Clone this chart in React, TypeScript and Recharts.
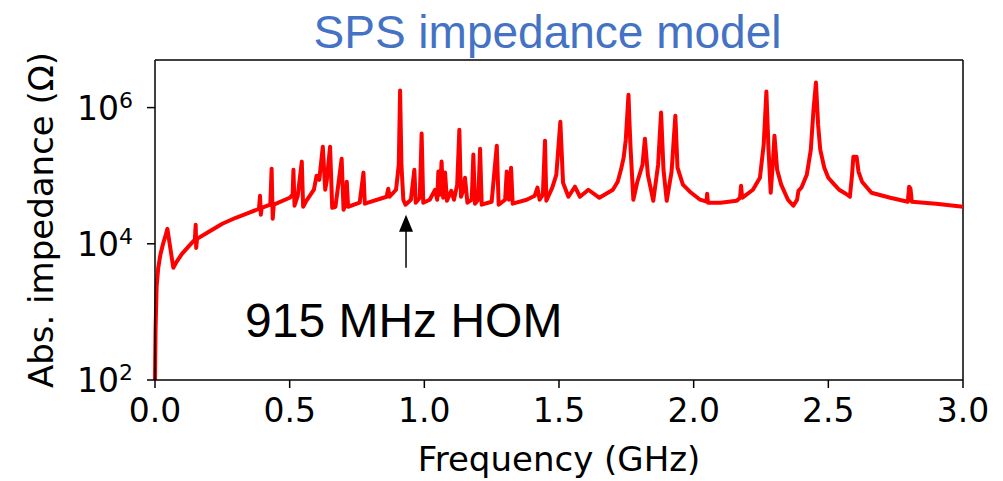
import React from "react";
import {
  LineChart,
  Line,
  XAxis,
  YAxis,
  ReferenceLine,
} from "recharts";

// frequency in GHz
const freq = [
  0, 0.002, 0.006, 0.012, 0.02, 0.03, 0.04, 0.046, 0.055, 0.068,
  0.08, 0.1, 0.13, 0.148, 0.151, 0.153, 0.156, 0.2, 0.25, 0.3,
  0.35, 0.386, 0.39, 0.393, 0.396, 0.428, 0.433, 0.437, 0.441, 0.5,
  0.511, 0.514, 0.518, 0.53, 0.545, 0.55, 0.56, 0.59, 0.6, 0.61,
  0.623, 0.632, 0.638, 0.65, 0.658, 0.67, 0.693, 0.7, 0.708, 0.712,
  0.717, 0.76, 0.774, 0.779, 0.86, 0.866, 0.871, 0.895, 0.905, 0.91,
  0.915, 0.922, 0.93, 0.95, 0.963, 0.968, 0.983, 0.99, 0.996, 1.02,
  1.04, 1.048, 1.052, 1.058, 1.064, 1.07, 1.077, 1.084, 1.1, 1.11,
  1.122, 1.13, 1.136, 1.145, 1.151, 1.16, 1.176, 1.182, 1.188, 1.2,
  1.207, 1.213, 1.25, 1.269, 1.276, 1.3, 1.306, 1.314, 1.322, 1.328,
  1.38, 1.41, 1.42, 1.428, 1.44, 1.448, 1.453, 1.475, 1.49, 1.505,
  1.515, 1.535, 1.559, 1.578, 1.609, 1.65, 1.7, 1.718, 1.73, 1.74,
  1.748, 1.758, 1.762, 1.766, 1.776, 1.79, 1.81, 1.819, 1.83, 1.85,
  1.868, 1.879, 1.888, 1.9, 1.918, 1.932, 1.94, 1.96, 1.986, 2.024,
  2.048, 2.05, 2.053, 2.1, 2.16, 2.172, 2.176, 2.18, 2.22, 2.246,
  2.26, 2.27, 2.278, 2.286, 2.295, 2.3, 2.31, 2.325, 2.35, 2.37,
  2.384, 2.389, 2.4, 2.42, 2.435, 2.445, 2.454, 2.462, 2.47, 2.485,
  2.5, 2.52, 2.54, 2.565, 2.58, 2.588, 2.593, 2.605, 2.612, 2.625,
  2.66, 2.73, 2.795, 2.8, 2.805, 2.81, 2.9, 3.0,
];

// |Z| in ohm
const impedance = [
  100, 543, 2330, 4440, 6900, 1.0e4, 1.36e4, 1.66e4, 9660, 4440,
  5430, 7130, 9660, 1.15e4, 1.9e4, 8710, 1.18e4, 1.5e4, 1.97e4, 2.41e4,
  2.86e4, 3.27e4, 5.08e4, 2.67e4, 3.37e4, 3.75e4, 1.27e5, 2.33e4, 3.75e4, 4.74e4,
  5.25e4, 1.22e5, 3.62e4, 5.08e4, 1.61e5, 3.5e4, 4.15e4, 6.22e4, 1.0e5, 8.7e4,
  2.67e5, 6.22e4, 8.7e4, 2.67e5, 3.37e4, 3.5e4, 1.78e5, 3.16e4, 3.75e4, 8.17e4,
  3.5e4, 4.01e4, 1.11e5, 3.88e4, 4.91e4, 6.44e4, 4.91e4, 6.22e4, 1.45e5, 1.78e6,
  1.45e5, 4.44e4, 3.75e4, 4.44e4, 1.22e5, 4.01e4, 4.74e4, 4.15e5, 4.01e4, 4.44e4,
  6.22e4, 4.44e4, 1.15e5, 5.25e4, 1.61e5, 4.74e4, 1.11e5, 4.28e4, 6.0e4, 4.44e4,
  7.38e4, 4.74e5, 4.91e4, 6.22e4, 9.33e4, 4.01e4, 4.44e4, 2.04e5, 3.88e4, 4.44e4,
  2.49e5, 3.75e4, 4.15e4, 2.76e5, 3.75e4, 4.44e4, 1.15e5, 4.44e4, 1.31e5, 3.88e4,
  4.44e4, 5.08e4, 6.67e4, 4.44e4, 5.25e4, 3.27e5, 4.28e4, 6.67e4, 1.03e5, 6.22e5,
  7.89e4, 4.91e4, 6.89e4, 4.91e4, 6.22e4, 4.74e4, 6.22e4, 8.17e4, 1.22e5, 1.84e5,
  3.38e5, 1.55e6, 5.62e5, 2.41e5, 4.44e4, 7.89e4, 1.45e5, 3.5e5, 1.03e5, 4.28e4,
  1.45e5, 8.44e5, 1.22e5, 4.28e4, 1.15e5, 7.62e5, 1.31e5, 7.38e4, 5.82e4, 4.44e4,
  4.15e4, 5.43e4, 4.01e4, 4.01e4, 4.28e4, 4.74e4, 7.13e4, 4.74e4, 6.22e4, 9.33e4,
  2.86e5, 1.72e6, 2.41e5, 5.62e4, 1.72e5, 3.87e5, 1.22e5, 7.38e4, 4.44e4, 3.62e4,
  4.44e4, 6.0e4, 6.67e4, 1.03e5, 2.41e5, 9.36e5, 2.33e6, 5.62e5, 2.41e5, 1.31e5,
  9.33e4, 7.6e4, 6.22e4, 5.43e4, 4.91e4, 1.03e5, 1.9e5, 1.9e5, 1.15e5, 8.17e4,
  5.62e4, 4.74e4, 4.15e4, 6.89e4, 6.44e4, 4.15e4, 3.88e4, 3.5e4,
];

const xTicks = [0, 0.5, 1.0, 1.5, 2.0, 2.5, 3.0];
const yTicks = [1e2, 1e4, 1e6];
const xMax = 3;
const yMin = 100;
const yMax = 5e6;

// arrow pointing at the 915 MHz HOM dip
const homFreq = 0.932;
const arrowFrom = 4440;
const arrowTo = 26700;

const data = freq.map((f, i) => ({ f, z: impedance[i] }));

const sans = "'DejaVu Sans', sans-serif";
const arial = "'Liberation Sans', Arial, sans-serif";

const XTick = ({ x, y, payload }: any) => (
  <text x={x} y={y + 32} textAnchor="middle" fontFamily={sans} fontSize={33} fill="#000">
    {Number(payload.value).toFixed(1)}
  </text>
);

const YTick = ({ x, y, payload }: any) => {
  const exp = Math.round(Math.log10(payload.value));
  return (
    <text x={x - 12} y={y + 12} textAnchor="end" fontFamily={sans} fontSize={33} fill="#000">
      10
      <tspan fontSize={22} dy={-12}>
        {exp}
      </tspan>
    </text>
  );
};

const Arrow = (p: any) => {
  const { x1, y1, x2, y2 } = p;
  return (
    <g>
      <line x1={x1} y1={y1} x2={x2} y2={y2 + 16} stroke="#000" strokeWidth={1.5} />
      <polygon points={`${x2},${y2} ${x2 - 7},${y2 + 17} ${x2 + 7},${y2 + 17}`} fill="#000" />
      <text x={x1 - 161} y={y1 + 69} fontFamily={arial} fontSize={48} fill="#000">
        915 MHz HOM
      </text>
    </g>
  );
};

export default function App() {
  return (
    <div style={{ position: "absolute", left: 0, top: 0, width: 1003, height: 481, background: "#fff" }}>
      <div
        style={{
          position: "absolute",
          left: 0,
          width: 1003,
          top: 6,
          textAlign: "center",
          paddingLeft: 92,
          boxSizing: "border-box",
          fontFamily: arial,
          fontSize: 46,
          lineHeight: "52px",
          color: "#4472C4",
        }}
      >
        SPS impedance model
      </div>
      <LineChart
        width={1003}
        height={481}
        data={data}
        margin={{ top: 60, right: 40, bottom: 0, left: 0 }}
      >
        <XAxis
          dataKey="f"
          type="number"
          domain={[0, xMax]}
          ticks={xTicks}
          interval={0}
          height={101}
          tickSize={8}
          tickMargin={2}
          tick={<XTick />}
          axisLine={{ stroke: "#000", strokeWidth: 1.5 }}
          tickLine={{ stroke: "#000", strokeWidth: 1.5 }}
          label={(props: any) => {
            const vb = props.viewBox;
            return (
              <text x={vb.x + vb.width / 2} y={471} textAnchor="middle" fontFamily={sans} fontSize={34} fill="#000">
                Frequency (GHz)
              </text>
            );
          }}
        />
        <YAxis
          type="number"
          scale="log"
          domain={[yMin, yMax]}
          allowDataOverflow
          ticks={yTicks}
          interval={0}
          width={155}
          tickSize={8}
          tickMargin={2}
          tick={<YTick />}
          axisLine={{ stroke: "#000", strokeWidth: 1.5 }}
          tickLine={{ stroke: "#000", strokeWidth: 1.5 }}
          label={(props: any) => {
            const vb = props.viewBox;
            const cy = vb.y + vb.height / 2;
            return (
              <text
                x={53}
                y={cy}
                transform={`rotate(-90, 53, ${cy})`}
                textAnchor="middle"
                fontFamily={sans}
                fontSize={34}
                fill="#000"
              >
                Abs. impedance (Ω)
              </text>
            );
          }}
        />
        {/* frame: top and right spines */}
        <ReferenceLine y={yMax} stroke="#000" strokeWidth={1.5} />
        <ReferenceLine x={xMax} stroke="#000" strokeWidth={1.5} />
        <ReferenceLine
          segment={[
            { x: homFreq, y: arrowFrom },
            { x: homFreq, y: arrowTo },
          ]}
          shape={Arrow}
        />
        <Line
          type="linear"
          dataKey="z"
          stroke="#FF0000"
          strokeWidth={4}
          strokeLinejoin="round"
          dot={false}
          activeDot={false}
          isAnimationActive={false}
        />
      </LineChart>
    </div>
  );
}
